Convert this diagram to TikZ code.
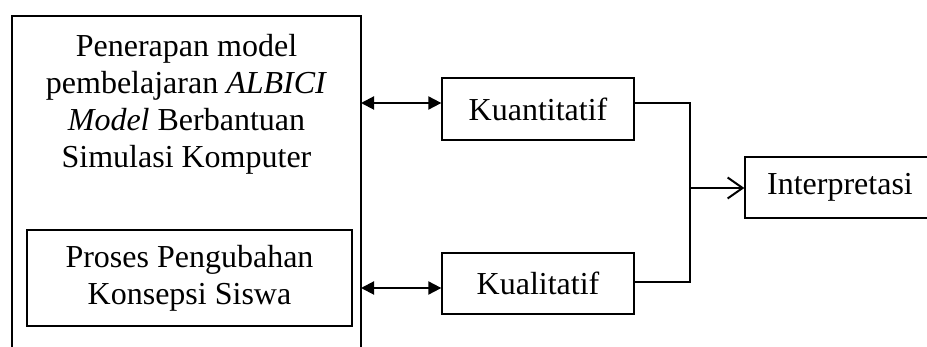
\documentclass[tikz,border=0pt]{standalone}
\usepackage{fontspec}
\setmainfont{Liberation Serif}
\usetikzlibrary{arrows.meta,calc}
\begin{document}
\begin{tikzpicture}[x=1pt,y=-1pt,
  every node/.style={font=\fontsize{32}{37}\selectfont},
  boxnode/.style={draw,line width=1.3pt,inner sep=0pt,align=center},
  plain/.style={inner sep=0pt,align=center},
  dbl/.style={line width=2pt,{Triangle[length=13pt,width=13pt]}-{Triangle[length=13pt,width=13pt]}},
  conn/.style={line width=2pt},
  open/.style={line width=2pt,-{Straight Barb[length=15pt,width=21pt,line width=2pt]}}]
\useasboundingbox (0,0) rectangle (927,347);
\clip (0,0) rectangle (927,347);
% outer box (open at the bottom)
\coordinate (oBL) at (12,350);
\coordinate (oTL) at (12,16);
\coordinate (oTR) at (361,16);
\coordinate (oBR) at (361,350);
\draw[line width=1.3pt] (oBL) -- (oTL) -- (oTR) -- (oBR);
\node[plain] (main) at (186.5,104) {Penerapan model\\pembelajaran \textit{ALBICI}\\\textit{Model} Berbantuan\\Simulasi Komputer};
\node[boxnode,minimum width=325pt,minimum height=96pt] (proses) at (189.5,278) {Proses Pengubahan\\Konsepsi Siswa};
\node[boxnode,minimum width=192pt,minimum height=62pt] (kuan) at (538,109) {Kuantitatif};
\node[boxnode,minimum width=192pt,minimum height=61pt] (kual) at (538,283.5) {Kualitatif};
\node[boxnode,minimum width=190pt,minimum height=61pt] (interp) at (840,187.5) {Interpretasi};
% double arrows
\coordinate (a1) at (361,103);
\coordinate (a2) at (361,288);
\draw[dbl] (a1) -- (kuan.west |- a1);
\draw[dbl] (a2) -- (kual.west |- a2);
% joining connector
\coordinate (j1) at (690,103);
\coordinate (j2) at (690,282);
\coordinate (jm) at (690,188);
\draw[conn] (kuan.east |- j1) -- (j1) -- (j2) -- (kual.east |- j2);
\draw[open] (jm) -- (interp.west |- jm);
\end{tikzpicture}
\end{document}
